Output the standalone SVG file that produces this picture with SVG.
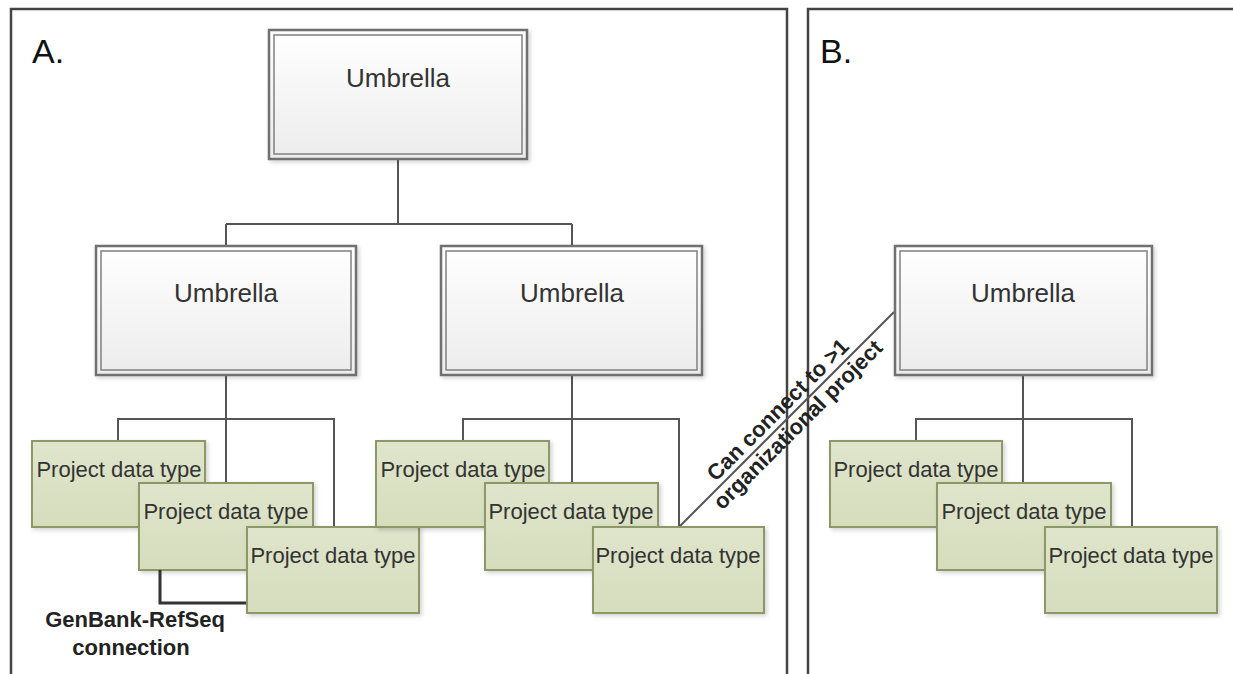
<svg xmlns="http://www.w3.org/2000/svg" width="1233" height="674" viewBox="0 0 1233 674">
<defs>
<linearGradient id="ug" x1="0" y1="0" x2="0" y2="1">
<stop offset="0" stop-color="#ffffff"/>
<stop offset="1" stop-color="#ececec"/>
</linearGradient>
<linearGradient id="pg" x1="0" y1="0" x2="0" y2="1">
<stop offset="0" stop-color="#dfe5cb"/>
<stop offset="1" stop-color="#d6ddbd"/>
</linearGradient>
<filter id="sh" x="-10%" y="-10%" width="130%" height="130%">
<feDropShadow dx="2" dy="2" stdDeviation="2" flood-color="#000" flood-opacity="0.18"/>
</filter>
</defs>
<style>
.panel{fill:none;stroke:#444;stroke-width:2.5}
.uo{fill:url(#ug);stroke:#707070;stroke-width:2.5}
.ui{fill:none;stroke:#808080;stroke-width:1.5}
.pd{fill:url(#pg);stroke:#8c9868;stroke-width:2}
.con{fill:none;stroke:#555;stroke-width:2}
.gb{fill:none;stroke:#333;stroke-width:3}
.ut{font-family:"Liberation Sans",Arial,sans-serif;font-size:26px;fill:#333;text-anchor:middle}
.pt{font-family:"Liberation Sans",Arial,sans-serif;font-size:22px;fill:#333;text-anchor:middle}
.bt{font-family:"Liberation Sans",Arial,sans-serif;font-size:22px;font-weight:bold;fill:#222;text-anchor:middle}
.lab{font-family:"Liberation Sans",Arial,sans-serif;font-size:34px;fill:#111}
</style>
<rect width="1233" height="674" fill="#fff"/>
<g id="panels">
<rect class="panel" x="11" y="9" width="776" height="700"/>
<rect class="panel" x="808" y="9" width="460" height="700"/>
<text class="lab" x="32" y="63">A.</text>
<text class="lab" x="820" y="63">B.</text>
</g>
<g id="connectors">
<path class="con" d="M398 159V224M226 224H572M226 224V246M572 224V246"/>
<path class="con" d="M226 375V483M118 441V419H334V527"/>
<path class="con" d="M572 375V483M463 441V419H679V527"/>
<path class="con" d="M1023 375V483M916 441V419H1132V527"/>
<path class="con" d="M680 526L894 312"/>
</g>
<g id="u-top">
<rect class="uo" x="269" y="30" width="258" height="129" filter="url(#sh)"/>
<rect class="ui" x="274" y="35" width="248" height="119"/>
<text class="ut" x="398" y="87">Umbrella</text>
</g>
<g id="u-left">
<rect class="uo" x="96" y="246" width="260" height="129" filter="url(#sh)"/>
<rect class="ui" x="101" y="251" width="250" height="119"/>
<text class="ut" x="226" y="302">Umbrella</text>
</g>
<g id="u-right">
<rect class="uo" x="441" y="246" width="261" height="129" filter="url(#sh)"/>
<rect class="ui" x="446" y="251" width="251" height="119"/>
<text class="ut" x="572" y="302">Umbrella</text>
</g>
<g id="u-b">
<rect class="uo" x="895" y="246" width="257" height="129" filter="url(#sh)"/>
<rect class="ui" x="900" y="251" width="247" height="119"/>
<text class="ut" x="1023" y="302">Umbrella</text>
</g>
<g id="a-l1"><rect class="pd" x="32" y="441" width="173" height="86" filter="url(#sh)"/><text class="pt" x="119" y="477">Project data type</text></g>
<g id="a-l2"><rect class="pd" x="139" y="483" width="174" height="87" filter="url(#sh)"/><text class="pt" x="226" y="519">Project data type</text></g>
<g id="genbank">
<path class="gb" d="M160 570V603H247"/>
</g>
<g id="a-l3"><rect class="pd" x="247" y="527" width="172" height="86" filter="url(#sh)"/><text class="pt" x="333" y="563">Project data type</text></g>
<g id="a-r1"><rect class="pd" x="376" y="441" width="173" height="86" filter="url(#sh)"/><text class="pt" x="463" y="477">Project data type</text></g>
<g id="a-r2"><rect class="pd" x="485" y="483" width="173" height="87" filter="url(#sh)"/><text class="pt" x="571" y="519">Project data type</text></g>
<g id="a-r3"><rect class="pd" x="593" y="527" width="171" height="86" filter="url(#sh)"/><text class="pt" x="678" y="563">Project data type</text></g>
<g id="b-1"><rect class="pd" x="830" y="441" width="172" height="86" filter="url(#sh)"/><text class="pt" x="916" y="477">Project data type</text></g>
<g id="b-2"><rect class="pd" x="937" y="483" width="174" height="87" filter="url(#sh)"/><text class="pt" x="1024" y="519">Project data type</text></g>
<g id="b-3"><rect class="pd" x="1045" y="527" width="172" height="86" filter="url(#sh)"/><text class="pt" x="1131" y="563">Project data type</text></g>
<g id="labels">
<text class="bt" x="135" y="627">GenBank-RefSeq</text>
<text class="bt" x="131" y="655">connection</text>
<text class="bt" x="783" y="415" transform="rotate(-45 783 415)">Can connect to &gt;1</text>
<text class="bt" x="803" y="430" transform="rotate(-45 803 430)">organizational project</text>
</g>
</svg>
